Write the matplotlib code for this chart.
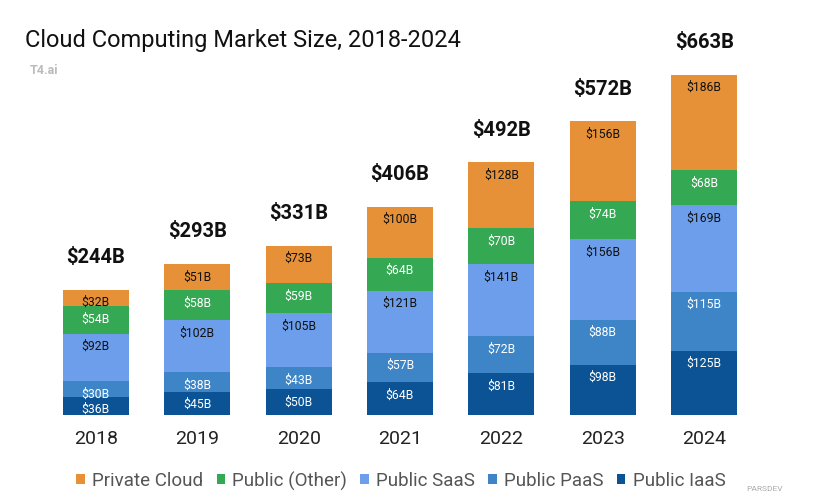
import matplotlib.pyplot as plt
import numpy as np

plt.rcParams['font.family'] = ['Roboto', 'DejaVu Sans']

years = ['2018', '2019', '2020', '2021', '2022', '2023', '2024']
totals = [244, 293, 331, 406, 492, 572, 663]
iaas = [36, 45, 50, 64, 81, 98, 125]
paas = [30, 38, 43, 57, 72, 88, 115]
saas = [92, 102, 105, 121, 141, 156, 169]
other = [54, 58, 59, 64, 70, 74, 68]
private = [32, 51, 73, 100, 128, 156, 186]

# bottom to top
series = [
    ('Public IaaS', iaas, '#0b5394', 'white'),
    ('Public PaaS', paas, '#3d85c6', 'white'),
    ('Public SaaS', saas, '#6d9eeb', '#111111'),
    ('Public (Other)', other, '#34a853', 'white'),
    ('Private Cloud', private, '#e69138', '#111111'),
]

fig = plt.figure(figsize=(8.18, 5.02), dpi=100)
ax = fig.add_axes([30/818, 86/502, 740/818, 386/502])

x = np.arange(len(years))
bottom = np.zeros(len(years))
for name, vals, col, tcol in series:
    vals = np.array(vals, dtype=float)
    ax.bar(x, vals, 0.65, bottom=bottom, color=col, label=name)
    for xi, b, v in zip(x, bottom, vals):
        ax.annotate('$%dB' % v, (xi, b + v), xytext=(0, -8.5), textcoords='offset points',
                    ha='center', va='center', fontsize=8.8, color=tcol)
    bottom += vals

for xi, t, b in zip(x, totals, bottom):
    ax.annotate('$%dB' % t, (xi, b), xytext=(0, 24), textcoords='offset points',
                ha='center', va='center', fontsize=14.5, fontweight='bold', color='#111111')

ax.set_xlim(-0.65, 6.65)
ax.set_ylim(0, 752)
ax.set_xticks(x)
ax.set_xticklabels(years, fontsize=14, color='#222222')
ax.tick_params(axis='x', length=0, pad=10)
ax.set_yticks([])
for s in ax.spines.values():
    s.set_visible(False)

fig.text(25/818, 1 - 40/502, 'Cloud Computing Market Size, 2018-2024', fontsize=17,
         color='#111111', va='center', ha='left')
fig.text(30/818, 1 - 70/502, 'T4.ai', fontsize=9, color='#bbbbbb',
         fontweight='bold', va='center', ha='left')

handles, labels = ax.get_legend_handles_labels()
fig.legend(handles[::-1], labels[::-1], loc='center', bbox_to_anchor=(401/818, 1 - 481/502),
           ncol=5, frameon=False, fontsize=13.5, handlelength=0.45, handleheight=0.45,
           handletextpad=0.4, columnspacing=0.7, labelcolor='#555555')

fig.text(765/818, 1 - 489/502, 'PARSDEV', fontsize=6, color='#aaaaaa', ha='center', va='center')

fig.savefig('out.png', dpi=100)
